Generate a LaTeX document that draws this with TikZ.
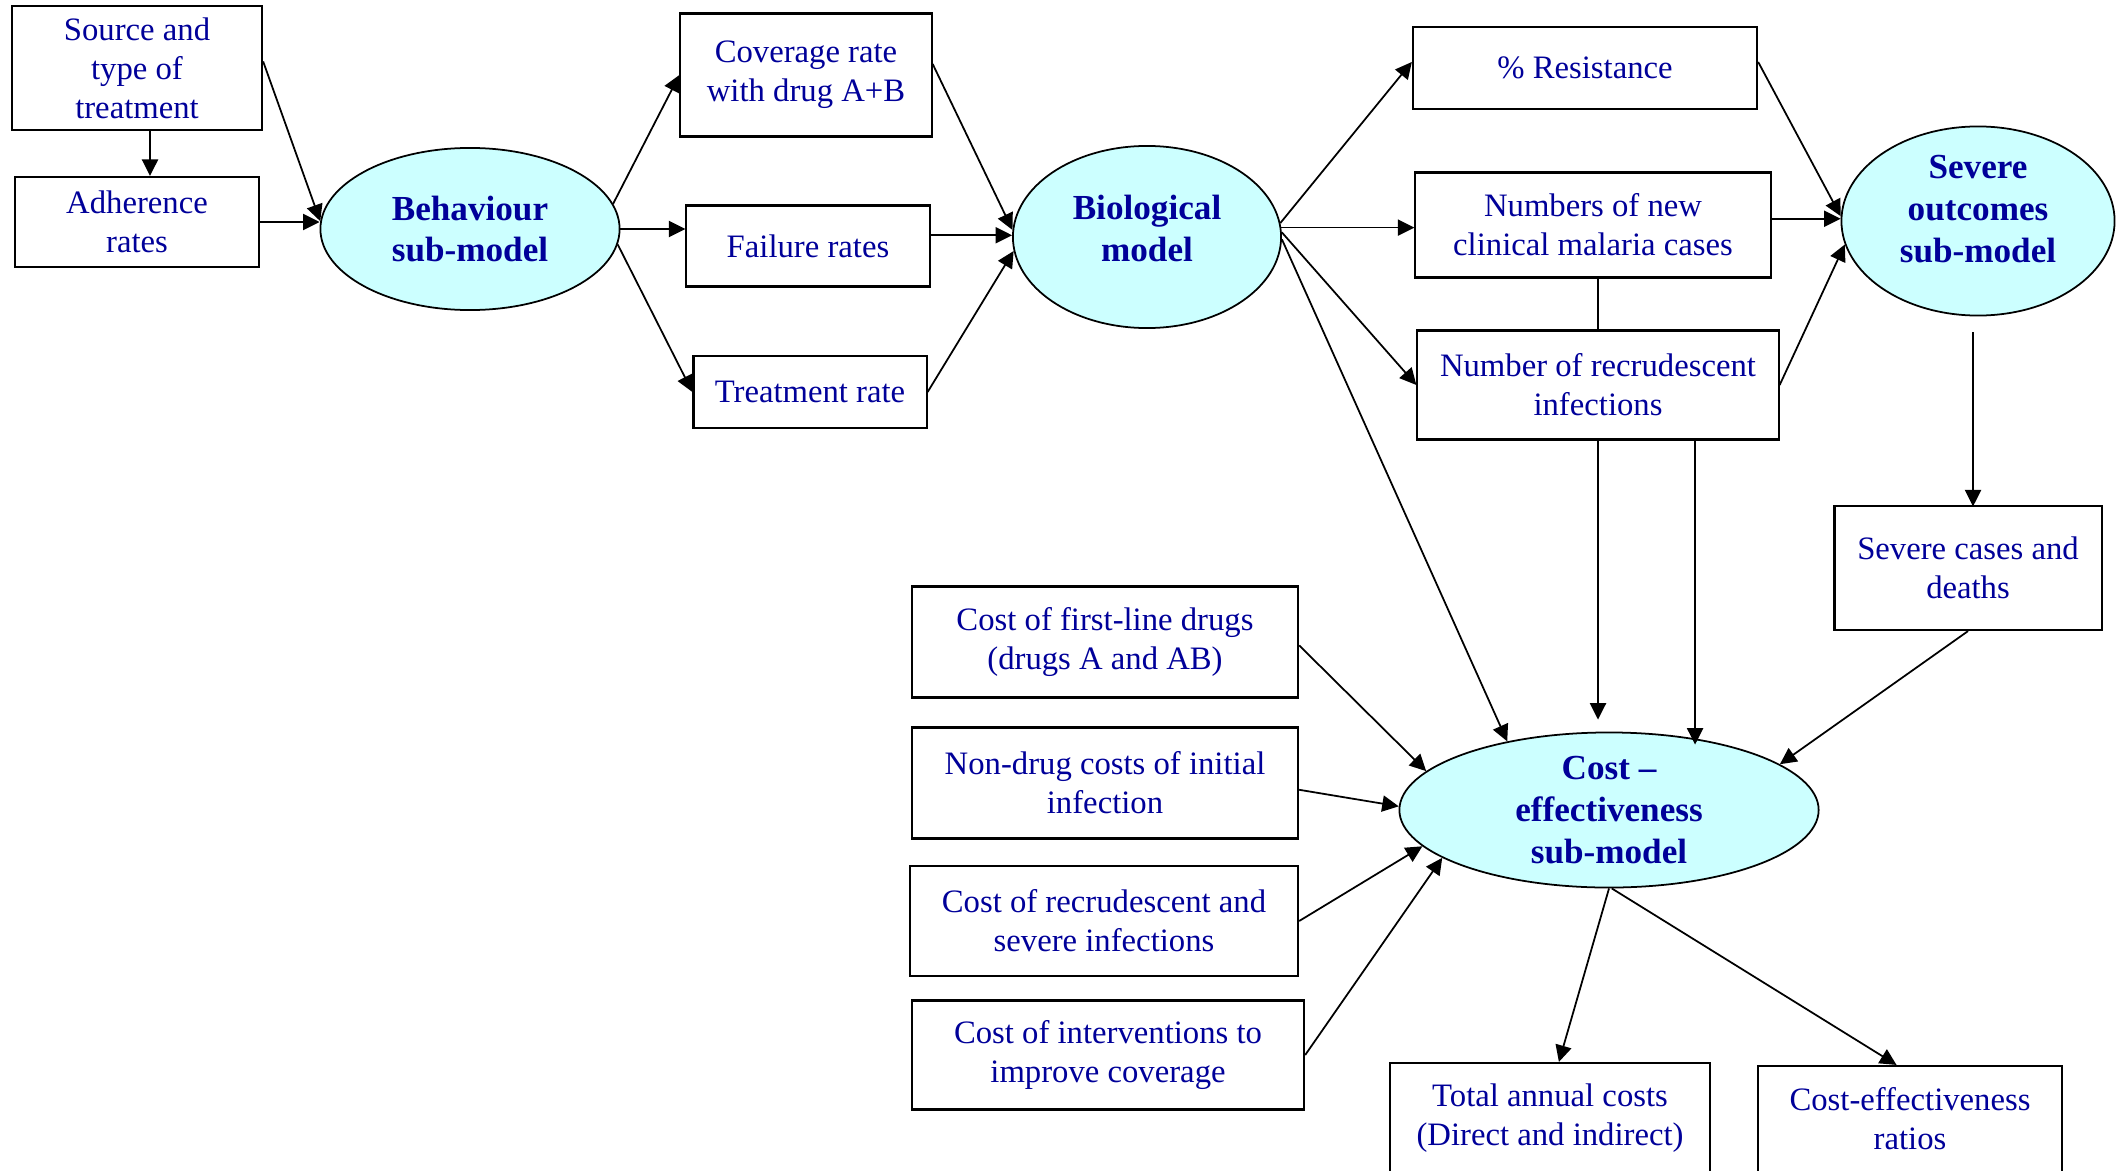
\documentclass[tikz,border=0pt]{standalone}
\usepackage{fontspec}
\setmainfont{Liberation Serif}
\usetikzlibrary{shapes.geometric,arrows.meta}

\definecolor{labelblue}{RGB}{0,0,153}
\definecolor{modelcyan}{RGB}{204,255,255}

\tikzstyle{box} = [rectangle, draw=black, line width=0.6pt, text=labelblue, align=center, font=\fontsize{9.3}{11.1}\selectfont]
\tikzstyle{model} = [ellipse, draw=black, line width=0.5pt, fill=modelcyan, text=labelblue, align=center, inner sep=0pt, inner ysep=-3pt, font=\fontsize{10}{11.9}\selectfont\bfseries]
\tikzstyle{arrow} = [line width=0.5pt, -{Triangle[length=4.7pt,width=4.6pt]}]
\tikzstyle{link} = [line width=0.5pt]

\begin{document}
\begin{tikzpicture}[x=0.01cm, y=-0.01cm]
        \useasboundingbox (0,0) rectangle (2116,1170);

        % Nodes
        \node (source) [box, minimum width=2.50cm, minimum height=1.15cm] at (137,68) {Source and\\type of\\treatment};
        \node (adher) [box, minimum width=2.44cm, minimum height=0.90cm] at (137,222) {Adherence\\rates};
        \node (behav) [model, minimum width=2.99cm, minimum height=1.62cm] at (470,229) {Behaviour\\sub-model};
        \node (cover) [box, minimum width=2.51cm, minimum height=1.23cm] at (806,75) {Coverage rate\\with drug A+B};
        \node (fail) [box, minimum width=2.43cm, minimum height=0.81cm] at (808,246) {Failure rates};
        \node (treat) [box, minimum width=2.33cm, minimum height=0.72cm] at (810,392) {Treatment rate};
        \node (bio) [model, text depth=5pt, minimum width=2.68cm, minimum height=1.82cm] at (1147,237) {Biological\\model};
        \node (resist) [box, minimum width=3.44cm, minimum height=0.82cm] at (1585,68) {\% Resistance};
        \node (newc) [box, minimum width=3.55cm, minimum height=1.05cm] at (1593,225) {Numbers of new\\clinical malaria cases};
        \node (recr) [box, minimum width=3.61cm, minimum height=1.09cm] at (1598,385) {Number of recrudescent\\infections};
        \node (severe) [model, text depth=7pt, minimum width=2.73cm, minimum height=1.89cm] at (1978,221) {Severe\\outcomes\\sub-model};
        \node (sevcases) [box, minimum width=2.67cm, minimum height=1.24cm] at (1968,568) {Severe cases and\\deaths};
        \node (cfirst) [box, minimum width=3.86cm, minimum height=1.11cm] at (1105,642) {Cost of first-line drugs\\(drugs A and AB)};
        \node (cnondrug) [box, minimum width=3.86cm, minimum height=1.11cm] at (1105,783) {Non-drug costs of initial\\infection};
        \node (crecr) [box, minimum width=3.88cm, minimum height=1.10cm] at (1104,921) {Cost of recrudescent and\\severe infections};
        \node (cint) [box, minimum width=3.92cm, minimum height=1.09cm] at (1108,1055) {Cost of interventions to\\improve coverage};
        \node (ce) [model, minimum width=4.19cm, minimum height=1.55cm] at (1609,810) {Cost --\\effectiveness\\sub-model};
        \node (total) [box, minimum width=3.20cm, minimum height=1.10cm] at (1550,1118) {Total annual costs\\(Direct and indirect)};
        \node (ratios) [box, minimum width=3.04cm, minimum height=1.06cm] at (1910,1119) {Cost-effectiveness\\ratios};

        % Arrows
        \draw [arrow] (source.3) -- (behav.177);
        \draw [arrow] ([xshift=0.13cm]source.south) -- ([xshift=0.13cm]adher.north);
        \draw [arrow] (adher.east) -- (adher.east -| behav.west);
        \draw [arrow] (behav.10) -- (cover.west);
        \draw [arrow] (behav.east) -- (behav.east -| fail.west);
        \draw [arrow] (behav.-6) -- (treat.west);
        \draw [arrow] (cover.5) -- (bio.177);
        \draw [arrow] (fail.5) -- (fail.5 -| bio.west);
        \draw [arrow] (treat.east) -- (bio.186);
        \draw [arrow] (bio.6) -- (resist.178);
        \draw [arrow] (bio.4) -- (bio.4 -| newc.west);
        \draw [arrow] (bio.2) -- (recr.west);
        \draw [arrow] (bio.-1) -- (ce.146);
        \draw [arrow] (resist.2) -- (severe.178);
        \draw [arrow] (newc.2) -- (newc.2 -| severe.west);
        \draw [arrow] (recr.east) -- (severe.190);
        \draw [link] (recr.north |- newc.south) -- (recr.north);
        \draw [arrow] (recr.south) -- ++(0,279);
        \draw [arrow] ([xshift=0.97cm]recr.south) -- ++(0,304);
        \draw [arrow] (severe.south) ++(-5,16) -- ++(0,174);
        \draw [arrow] (sevcases.south) -- (ce.15);
        \draw [arrow] (cfirst.-1) -- (ce.168);
        \draw [arrow] (cnondrug.-2) -- (ce.179);
        \draw [arrow] (crecr.east) -- (ce.191);
        \draw [arrow] (cint.east) -- (ce.196);
        \draw [arrow] (ce.south) -- (total.81);
        \draw [arrow] (ce.-88) -- (ratios.104);
\end{tikzpicture}
\end{document}
